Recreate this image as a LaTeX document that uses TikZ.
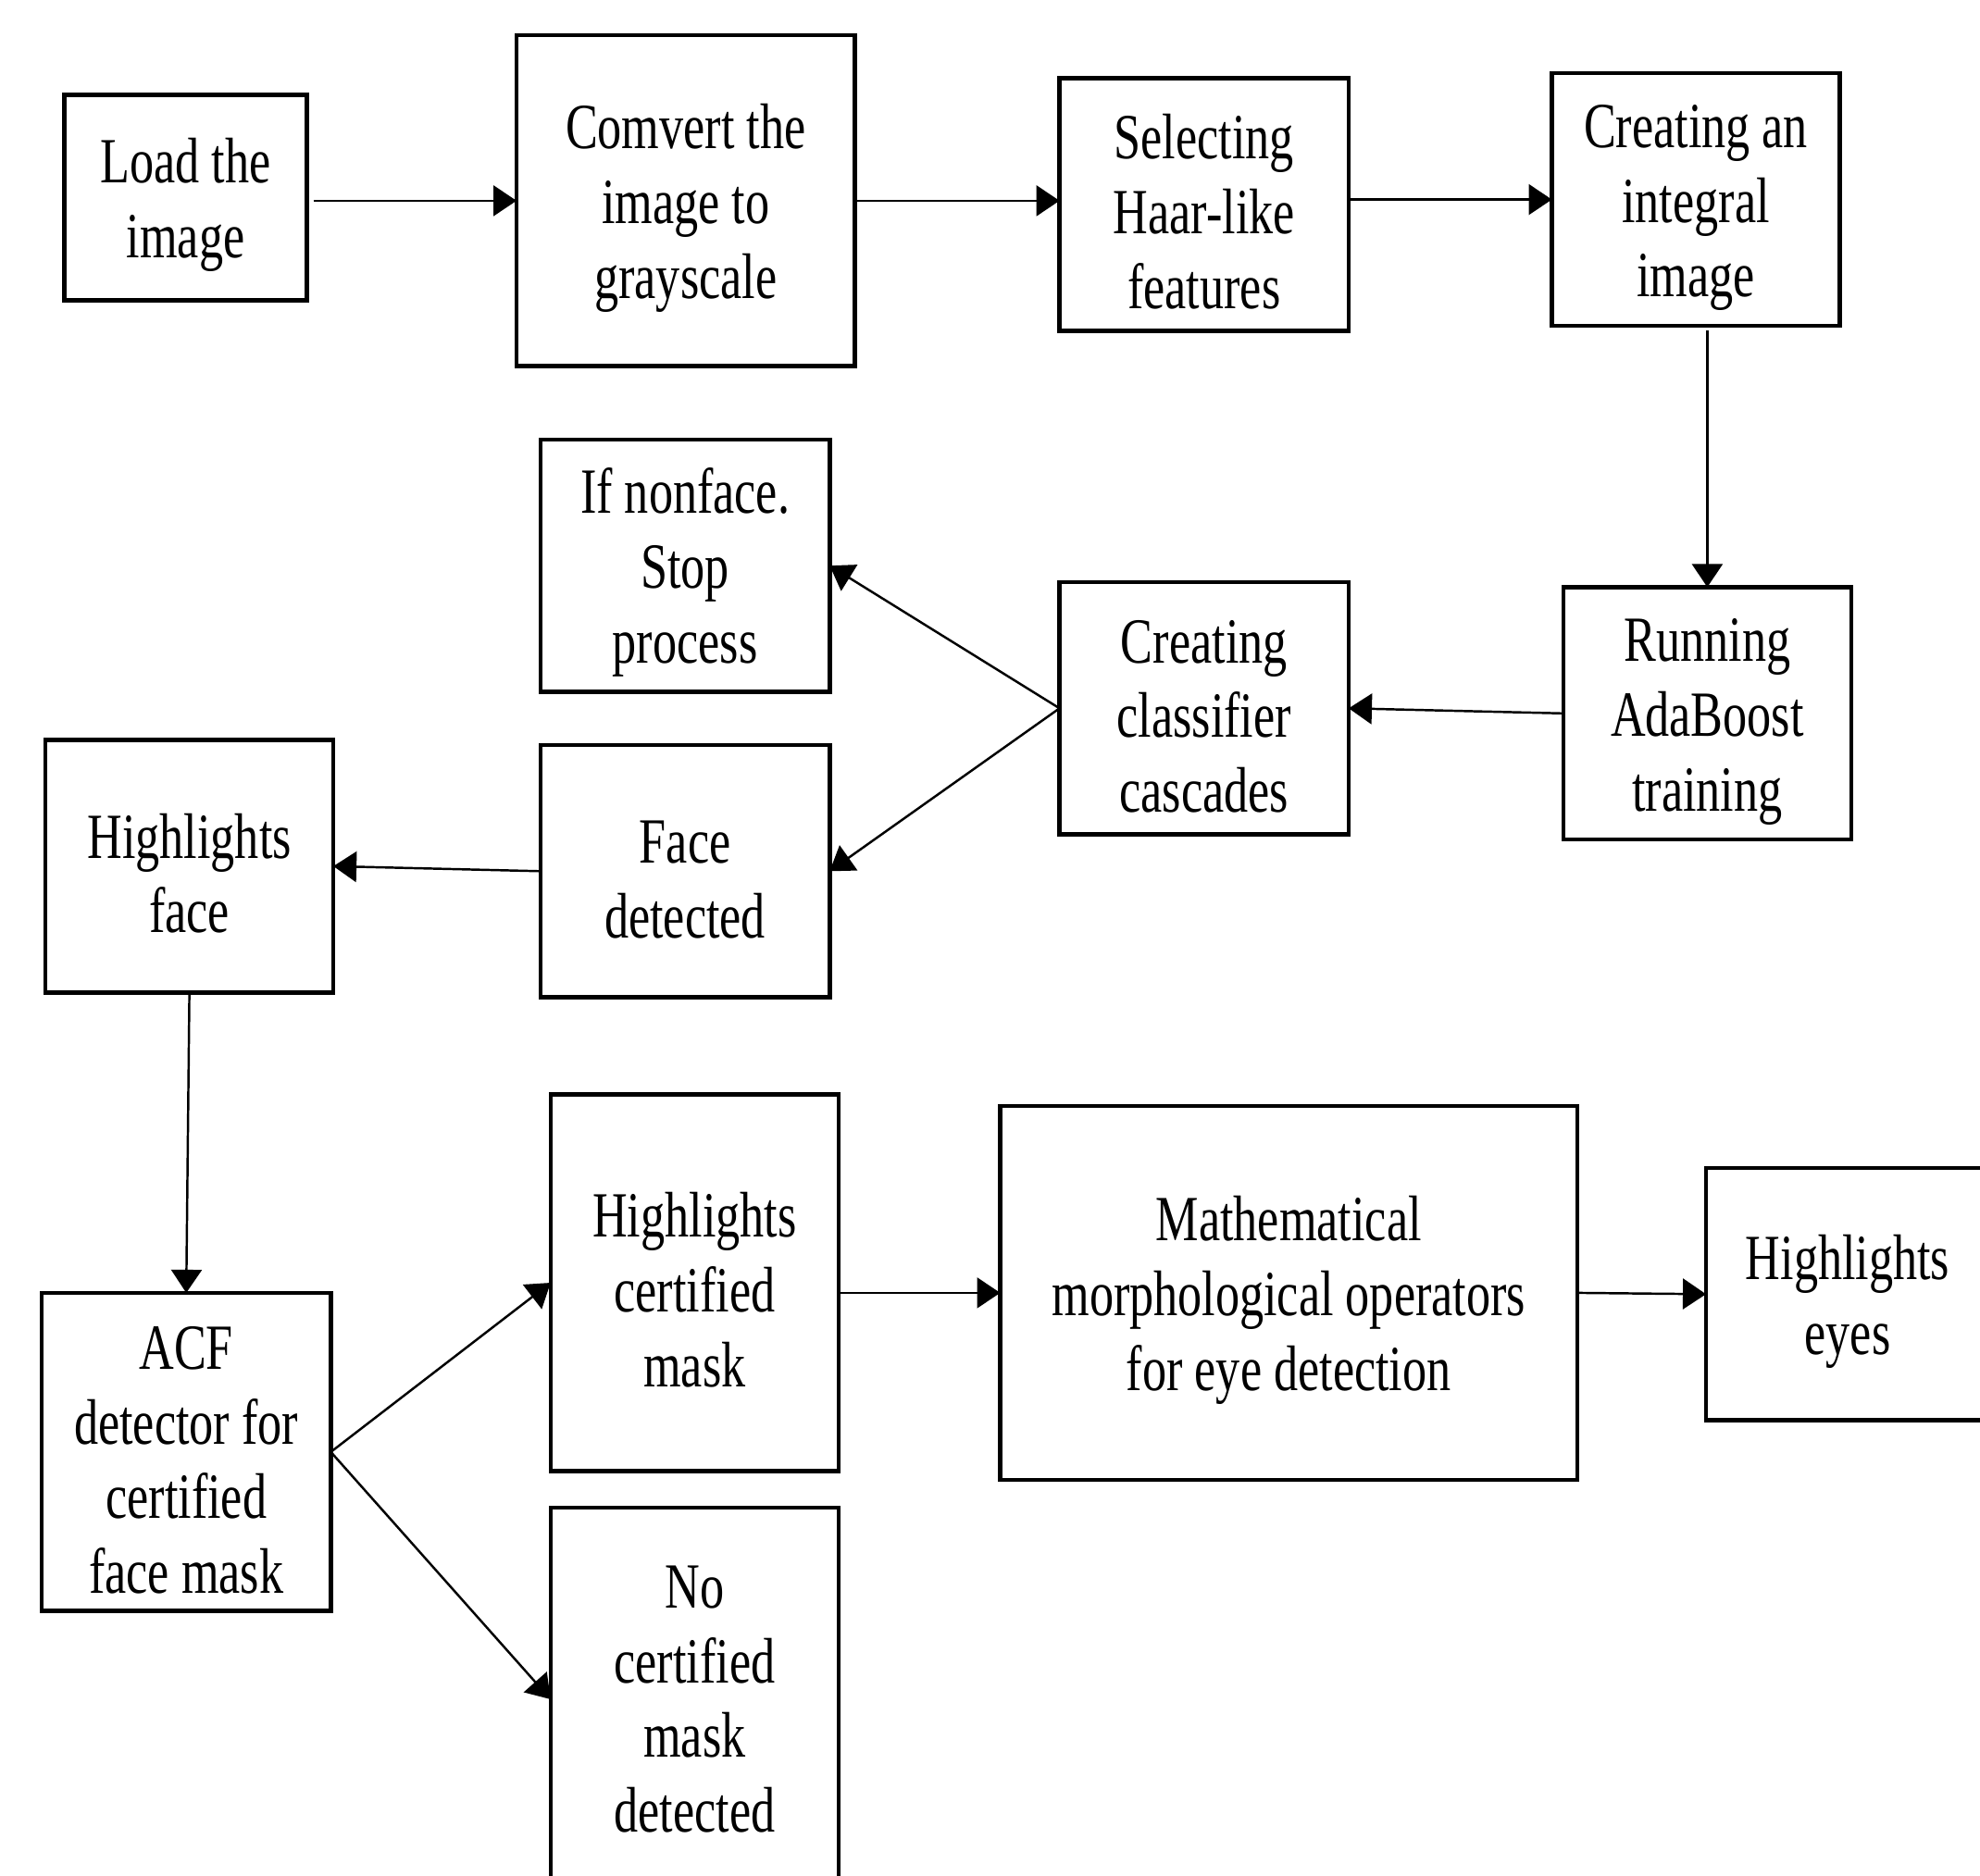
\documentclass[tikz,border=0pt]{standalone}
\usepackage{fontspec}
\setmainfont{Liberation Serif}[FakeStretch=0.75]
\usetikzlibrary{arrows.meta}
\newcommand{\topgap}{\rule{0pt}{18.2pt}}

\begin{document}
\begin{tikzpicture}[
    blk/.style={draw=black, line width=1.3pt, inner sep=0pt, outer sep=0pt, align=center,
        font=\fontsize{19.8pt}{23pt}\selectfont},
    arr/.style={draw=black, line width=0.7pt, -{Triangle[length=0.25cm, width=0.33cm]}}]
    \fill [white] (0,0) rectangle (21.39,-20.26);
    \useasboundingbox (0,0) rectangle (21.39,-20.26);
    \clip (0,0) rectangle (21.39,-20.26);
    \node [blk, minimum width=2.62cm, minimum height=2.22cm] (load) at (2.005,-2.135) {\topgap Load the\\image};
    \node [blk, minimum width=3.656cm, minimum height=3.574cm] (gray) at (7.408,-2.169) {\topgap Comvert the\\image to\\grayscale};
    \node [blk, minimum width=3.124cm, minimum height=2.728cm] (haar) at (13.008,-2.21) {\topgap Selecting\\Haar-like\\features};
    \node [blk, minimum width=3.11cm, minimum height=2.728cm] (integral) at (18.32,-2.156) {\topgap Creating an\\integral\\image};
    \node [blk, minimum width=3.11cm, minimum height=2.728cm] (adaboost) at (18.444,-7.708) {\topgap Running\\AdaBoost\\training};
    \node [blk, minimum width=3.124cm, minimum height=2.728cm] (cascade) at (13.008,-7.653) {\topgap Creating\\classifier\\cascades};
    \node [blk, minimum width=3.124cm, minimum height=2.728cm] (nonface) at (7.401,-6.112) {\topgap If nonface.\\Stop\\process};
    \node [blk, minimum width=3.124cm, minimum height=2.728cm] (facedet) at (7.401,-9.413) {\topgap Face\\detected};
    \node [blk, minimum width=3.11cm, minimum height=2.728cm] (hlface) at (2.046,-9.359) {\topgap Highlights\\face};
    \node [blk, minimum width=3.124cm, minimum height=3.438cm] (acf) at (2.012,-15.688) {\topgap ACF\\detector for\\certified\\face mask};
    \node [blk, minimum width=3.11cm, minimum height=4.065cm] (hlmask) at (7.503,-13.86) {\topgap Highlights\\certified\\mask};
    \node [blk, minimum width=3.11cm, minimum height=4.14cm] (nomask) at (7.503,-18.36) {No\\certified\\mask\\detected};
    \node [blk, minimum width=6.234cm, minimum height=4.038cm] (morph) at (13.922,-13.969) {\topgap Mathematical\\morphological operators\\for eye detection};
    \node [blk, minimum width=3.06cm, minimum height=2.728cm] (hleyes) at (19.96,-13.983) {\topgap Highlights\\eyes};
    \draw [arr, shorten <=0.07cm] (load.east |- gray.west) -- (gray.west);
    \draw [arr] (gray.east) -- (gray.east -| haar.west);
    \draw [arr] (haar.east |- integral.west) -- (integral.west);
    \draw [arr, shorten <=0.05cm] (adaboost.north |- integral.south) -- (adaboost.north);
    \draw [arr] (adaboost.west) -- (cascade.east);
    \draw [arr] (cascade.west) -- (nonface.east);
    \draw [arr] (cascade.west) -- (facedet.east);
    \draw [arr] (facedet.west) -- (hlface.east);
    \draw [arr] (hlface.south) -- (acf.north);
    \draw [arr] (acf.east) -- (hlmask.west);
    \draw [arr] (acf.east) -- (nomask.west);
    \draw [arr] (hlmask.east |- morph.west) -- (morph.west);
    \draw [arr] (morph.east) -- (hleyes.west);
\end{tikzpicture}
\end{document}
